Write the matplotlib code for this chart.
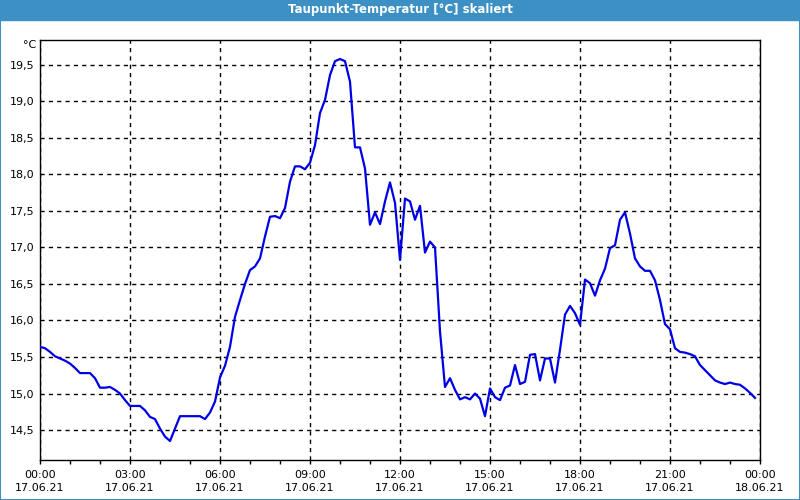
import numpy as np
import pandas as pd
import matplotlib
matplotlib.use('Agg')
import matplotlib.pyplot as plt
import matplotlib.dates as mdates
from matplotlib.patches import Rectangle
from matplotlib.ticker import FuncFormatter

plt.rcParams.update({
    'font.family': 'DejaVu Sans',
    'font.size': 8,
})

# ── Data: dew point, 10-minute readings on 17.06.21 ────────────────────────
start = '2021-06-17 00:00'
dewpoint = [
    15.64, 15.62, 15.57, 15.51, 15.48, 15.45, 15.41, 15.35, 15.28, 15.28,
    15.28, 15.21, 15.08, 15.08, 15.09, 15.05, 15.00, 14.91, 14.83, 14.83,
    14.83, 14.77, 14.68, 14.65, 14.52, 14.41, 14.35, 14.52, 14.69, 14.69,
    14.69, 14.69, 14.69, 14.65, 14.74, 14.89, 15.22, 15.38, 15.64, 16.05,
    16.28, 16.50, 16.69, 16.74, 16.85, 17.15, 17.42, 17.43, 17.40, 17.54,
    17.90, 18.11, 18.11, 18.07, 18.16, 18.40, 18.84, 19.02, 19.36, 19.55,
    19.58, 19.55, 19.27, 18.37, 18.37, 18.08, 17.31, 17.48, 17.32, 17.63,
    17.89, 17.61, 16.83, 17.67, 17.63, 17.38, 17.57, 16.93, 17.08, 17.00,
    15.85, 15.09, 15.21, 15.05, 14.92, 14.95, 14.92, 15.00, 14.93, 14.69,
    15.07, 14.95, 14.91, 15.08, 15.11, 15.39, 15.13, 15.16, 15.53, 15.54,
    15.18, 15.48, 15.48, 15.15, 15.60, 16.08, 16.20, 16.10, 15.94, 16.56,
    16.51, 16.34, 16.55, 16.71, 16.99, 17.03, 17.38, 17.48, 17.19, 16.85,
    16.74, 16.68, 16.68, 16.55, 16.28, 15.95, 15.88, 15.62, 15.57, 15.56,
    15.54, 15.51, 15.39, 15.32, 15.25, 15.18, 15.15, 15.13, 15.15, 15.13,
    15.12, 15.07, 15.01, 14.94,
]
y_ticks = [14.5, 15.0, 15.5, 16.0, 16.5, 17.0, 17.5, 18.0, 18.5, 19.0, 19.5]
title = 'Taupunkt-Temperatur [°C] skaliert'
unit = '°C'

BAR_BLUE = '#3c90c4'
LINE_BLUE = '#0000e6'

times = pd.date_range(start, periods=len(dewpoint), freq='10min')

fig = plt.figure(figsize=(8, 5), dpi=100)
fig.patch.set_facecolor('white')

# title bar and window border
fig.patches.append(Rectangle((0, 0.96), 1, 0.04, transform=fig.transFigure,
                             color=BAR_BLUE, zorder=0))
fig.patches.append(Rectangle((0.0006, 0.001), 0.9988, 0.998, transform=fig.transFigure,
                             fill=False, edgecolor=BAR_BLUE, lw=1.5, zorder=0))
fig.text(0.5, 0.98, title, ha='center', va='center', color='white',
         fontsize=8.5, fontweight='bold')

ax = fig.add_axes([0.05, 0.08, 0.90, 0.84])
ax.plot(times, dewpoint, color=LINE_BLUE, lw=1.6, zorder=3)

ax.set_xlim(pd.Timestamp('2021-06-17 00:00'), pd.Timestamp('2021-06-18 00:00'))
ax.set_ylim(14.09, 19.84)

ax.xaxis.set_major_locator(mdates.HourLocator(byhour=range(0, 24, 3)))
ax.xaxis.set_minor_locator(mdates.HourLocator())
ax.xaxis.set_major_formatter(mdates.DateFormatter('%H:%M\n%d.%m.%y'))
ax.set_yticks(y_ticks)
ax.yaxis.set_major_formatter(FuncFormatter(lambda v, _: f'{v:.1f}'.replace('.', ',')))

ax.tick_params(axis='x', which='both', direction='out', length=3, width=1,
               pad=4, labelsize=8)
ax.tick_params(axis='y', length=0, pad=4, labelsize=8)
for lbl in ax.get_xticklabels():
    lbl.set_linespacing(1.45)

ax.grid(True, which='major', color='black', linestyle=(0, (3, 3)), lw=1)
for s in ax.spines.values():
    s.set_linewidth(1)
    s.set_color('black')

fig.text(0.045, 1 - 45 / 500, unit, ha='right', va='center', fontsize=8)

fig.savefig('out.png', dpi=100)
plt.close(fig)
